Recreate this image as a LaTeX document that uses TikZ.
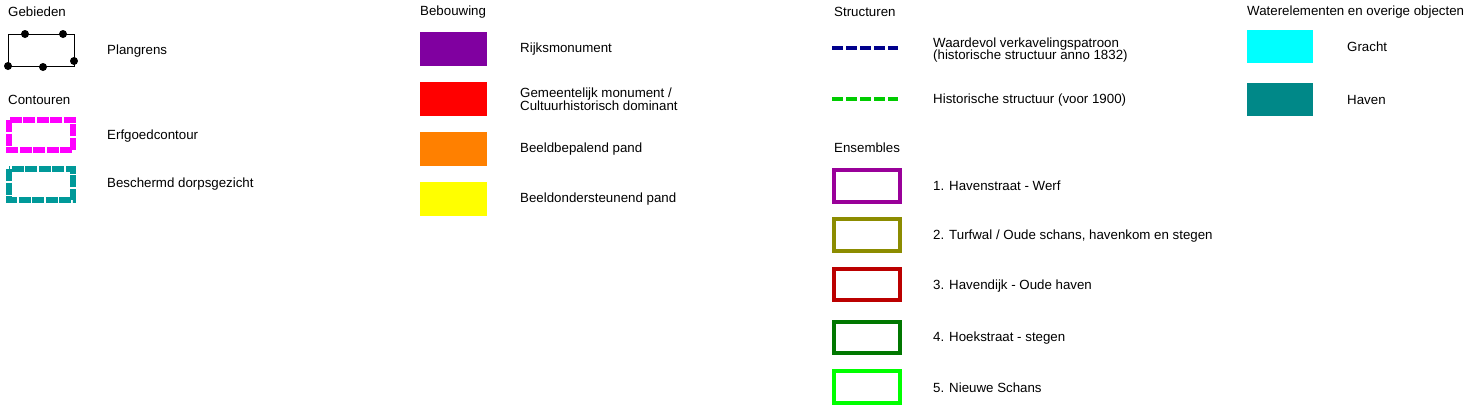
\documentclass[tikz,border=0pt]{standalone}
\usepackage{fontspec}
\setmainfont{Liberation Sans}
\begin{document}
\begin{tikzpicture}[x=1pt,y=-1pt,
  lbl/.style={anchor=west,inner sep=0pt,font=\fontsize{13.3}{13.3}\selectfont,align=left},
  two/.style={font=\fontsize{13.3}{12.5}\selectfont},
  ens/.style={line width=4pt},
  dot/.style={circle,fill=black,inner sep=0pt,minimum size=8pt}]
\useasboundingbox (0,0) rectangle (1475,410);
% Gebieden
\node[lbl] (t1) at (8,12) {Gebieden};
\draw[line width=1pt] (8,34) rectangle (74,66);
\node[dot] (d1) at (25,34) {}; \node[dot] (d2) at (63,34) {};
\node[dot] (d3) at (8,66) {}; \node[dot] (d4) at (43,67) {}; \node[dot] (d5) at (74,61) {};
\node[lbl] (l1) at (107,51) {Plangrens};
\node[lbl] (t2) at (8,100) {Contouren};
\draw[color={rgb,255:red,255;green,0;blue,255},line width=6pt,dash pattern=on 12pt off 1.5pt] (9,120) rectangle (73,150);
\node[lbl] (l2) at (107,136) {Erfgoedcontour};
\draw[color={rgb,255:red,0;green,153;blue,153},line width=6pt,dash pattern=on 12pt off 1.5pt] (9,169) rectangle (73,200);
\node[lbl] (l3) at (107,184) {Beschermd dorpsgezicht};
% Bebouwing
\node[lbl] (t3) at (420,12) {Bebouwing};
\fill[color={rgb,255:red,128;green,0;blue,160}] (420,32) rectangle (487,66);
\fill[color={rgb,255:red,255;green,0;blue,0}] (420,82) rectangle (487,116);
\fill[color={rgb,255:red,255;green,128;blue,0}] (420,132) rectangle (487,166);
\fill[color={rgb,255:red,255;green,255;blue,0}] (420,182) rectangle (487,216);
\node[lbl] (b1) at (520,49) {Rijksmonument};
\node[lbl,two] (b2) at (520,99) {Gemeentelijk monument /\\Cultuurhistorisch dominant};
\node[lbl] (b3) at (520,149) {Beeldbepalend pand};
\node[lbl] (b4) at (520,199) {Beeldondersteunend pand};
% Structuren
\node[lbl] (t4) at (834,12) {Structuren};
\draw[color={rgb,255:red,0;green,0;blue,140},line width=4pt,dash pattern=on 11pt off 3pt] (832,48) -- (898,48);
\draw[color={rgb,255:red,0;green,204;blue,0},line width=4pt,dash pattern=on 11pt off 3pt] (832,99) -- (898,99);
\node[lbl,two] (s1) at (933,50) {Waardevol verkavelingspatroon\\(historische structuur anno 1832)};
\node[lbl] (s2) at (933,100) {Historische structuur (voor 1900)};
% Ensembles
\node[lbl] (t5) at (834,148) {Ensembles};
\draw[ens,color={rgb,255:red,153;green,0;blue,153}] (834,170) rectangle (900,202);
\draw[ens,color={rgb,255:red,140;green,140;blue,0}] (834,219) rectangle (900,251);
\draw[ens,color={rgb,255:red,187;green,0;blue,0}] (834,269) rectangle (900,300);
\draw[ens,color={rgb,255:red,0;green,119;blue,0}] (834,322) rectangle (900,353);
\draw[ens,color={rgb,255:red,0;green,255;blue,0}] (834,371) rectangle (900,403);
\node[lbl] (e1) at (933,186) {1. Havenstraat - Werf};
\node[lbl] (e2) at (933,236) {2. Turfwal / Oude schans, havenkom en stegen};
\node[lbl] (e3) at (933,286) {3. Havendijk - Oude haven};
\node[lbl] (e4) at (933,338) {4. Hoekstraat - stegen};
\node[lbl] (e5) at (933,388) {5. Nieuwe Schans};
% Water
\node[lbl] (t6) at (1247,12) {Waterelementen en overige objecten};
\fill[color={rgb,255:red,0;green,255;blue,255}] (1247,30) rectangle (1313,63);
\fill[color={rgb,255:red,0;green,136;blue,136}] (1247,83) rectangle (1313,116);
\node[lbl] (w1) at (1347,47) {Gracht};
\node[lbl] (w2) at (1347,100) {Haven};
\end{tikzpicture}
\end{document}
